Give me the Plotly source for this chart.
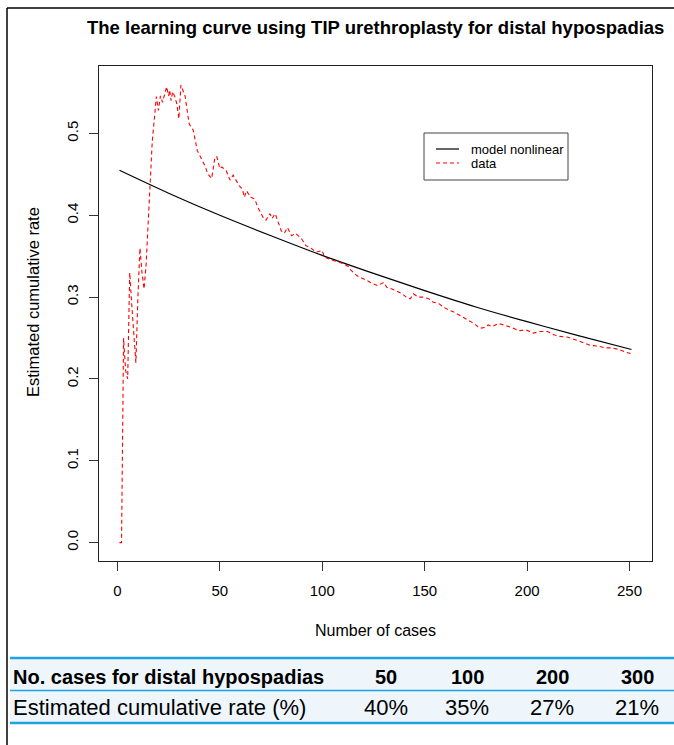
import plotly.graph_objects as go

# ---------------- data ----------------
model_x = [1, 25, 50, 75, 100, 125, 150, 175, 200, 225, 251]
model_y = [0.455, 0.427, 0.400, 0.375, 0.351, 0.329, 0.308, 0.288, 0.270, 0.253, 0.236]

data_x = [1, 2, 3, 4, 5, 6, 7, 8, 9, 10, 11, 12, 13, 14, 15, 16, 17, 18, 19, 20,
          21, 22, 24, 25, 25.5, 26.2, 27, 28, 29, 30, 31, 33, 34, 35, 37, 38, 39, 41,
          43, 44, 46, 47.5, 48.5, 50, 51, 53, 55, 56.5, 58, 59.5, 61, 62, 63, 65, 67,
          68.5, 71, 72.5, 74.5, 75.5, 77, 78.5, 80, 81.5, 83, 85, 87, 90, 92, 95, 97,
          100, 101, 103, 105, 108, 110, 113, 114, 117, 119, 122, 125, 127, 130, 131.5,
          134, 136, 139, 141, 143, 144.5, 147, 149, 152, 154, 157, 159, 162, 164, 167,
          170.5, 174, 177, 179.5, 181, 183, 186, 189, 192.5, 196, 199.5, 203, 206.5,
          210, 213, 216, 220, 223.5, 227.5, 231, 235, 238, 241.5, 245, 248, 250.5]
data_y = [0.0, 0.0, 0.25, 0.21, 0.20, 0.33, 0.29, 0.25, 0.22, 0.30, 0.36, 0.33, 0.31,
          0.34, 0.40, 0.44, 0.49, 0.52, 0.545, 0.528, 0.546, 0.538, 0.557, 0.546, 0.553,
          0.540, 0.551, 0.545, 0.536, 0.518, 0.559, 0.546, 0.528, 0.512, 0.504, 0.491,
          0.479, 0.469, 0.459, 0.451, 0.445, 0.469, 0.472, 0.457, 0.459, 0.455, 0.443,
          0.449, 0.443, 0.436, 0.432, 0.422, 0.430, 0.422, 0.420, 0.410, 0.398, 0.394,
          0.402, 0.396, 0.402, 0.390, 0.381, 0.378, 0.385, 0.375, 0.378, 0.371, 0.363,
          0.359, 0.355, 0.357, 0.349, 0.347, 0.345, 0.343, 0.341, 0.337, 0.333, 0.326,
          0.324, 0.320, 0.316, 0.314, 0.318, 0.312, 0.310, 0.308, 0.304, 0.300, 0.298,
          0.304, 0.300, 0.300, 0.298, 0.294, 0.292, 0.288, 0.284, 0.282, 0.278, 0.273,
          0.268, 0.262, 0.263, 0.266, 0.264, 0.268, 0.266, 0.263, 0.259, 0.260, 0.256,
          0.258, 0.258, 0.254, 0.252, 0.251, 0.248, 0.244, 0.241, 0.240, 0.238, 0.238,
          0.236, 0.233, 0.231]

x_ticks = [0, 50, 100, 150, 200, 250]
y_ticks = [0.0, 0.1, 0.2, 0.3, 0.4, 0.5]

legend_labels = ["model nonlinear", "data"]

table_header = ["No. cases for distal hypospadias", "50", "100", "200", "300"]
table_row = ["Estimated cumulative rate (%)", "40%", "35%", "27%", "21%"]

title = "The learning curve using TIP urethroplasty for distal hypospadias"

# ---------------- layout geometry ----------------
W, H = 674, 745
L, R, T, B = 99, 22, 66, 184
PW, PH = W - L - R, H - T - B


def px(x):
    return (x - L) / PW


def py(y):
    return (H - B - y) / PH


FONT = "Liberation Sans, Arial, Helvetica, sans-serif"
MODEL_LINE = dict(color="black", width=1.2)
DATA_LINE = dict(color="#ff0000", width=1.1, dash="4px,3px")

fig = go.Figure()
fig.add_trace(go.Scatter(x=model_x, y=model_y, mode="lines", name=legend_labels[0],
                         line=dict(shape="spline", **MODEL_LINE)))
fig.add_trace(go.Scatter(x=data_x, y=data_y, mode="lines", name=legend_labels[1],
                         line=DATA_LINE))

axis_common = dict(showgrid=False, zeroline=False, showline=True, mirror=True,
                   linecolor="#222", linewidth=1, ticks="outside", ticklen=9,
                   tickcolor="#333", tickwidth=1,
                   tickfont=dict(family=FONT, size=15, color="black"))

fig.update_xaxes(range=[-9, 261], tickvals=x_ticks,
                 ticktext=[str(v) for v in x_ticks], ticklabelstandoff=7, **axis_common)
fig.update_yaxes(range=[-0.0224, 0.5824], tickvals=y_ticks,
                 ticktext=[f"{v:.1f}" for v in y_ticks], tickangle=-90,
                 ticklabelstandoff=5, **axis_common)

annotations = [
    dict(text="<b>" + title + "</b>", x=0.5, y=py(28), xref="paper", yref="paper",
         showarrow=False, xanchor="center", yanchor="middle",
         font=dict(family=FONT, size=18.5, color="black")),
    dict(text="Number of cases", x=0.5, y=py(630), xref="paper", yref="paper",
         showarrow=False, xanchor="center", yanchor="middle",
         font=dict(family=FONT, size=16, color="black")),
    dict(text="Estimated cumulative rate", x=px(33), y=py(302), xref="paper", yref="paper",
         showarrow=False, xanchor="center", yanchor="middle", textangle=-90,
         font=dict(family=FONT, size=16.5, color="black")),
]

# legend (drawn as a boxed key like the original)
leg_rows = [149, 163]
for lab, yy in zip(legend_labels, leg_rows):
    annotations.append(dict(text=lab, x=px(469), y=py(yy), xref="paper", yref="paper",
                            showarrow=False, xanchor="left", yanchor="middle",
                            font=dict(family=FONT, size=13, color="black")))

# table text
col_centers = [None, 386, 467, 552, 637]
for row, yc, bold, size in [(table_header, 677, True, 20), (table_row, 707, False, 22)]:
    for i, t in enumerate(row):
        txt = f"<b>{t}</b>" if bold else t
        if i == 0:
            annotations.append(dict(text=txt, x=px(11), y=py(yc), xref="paper", yref="paper",
                                    showarrow=False, xanchor="left", yanchor="middle",
                                    font=dict(family=FONT, size=size, color="black")))
        else:
            annotations.append(dict(text=txt, x=px(col_centers[i]), y=py(yc), xref="paper",
                                    yref="paper", showarrow=False, xanchor="center",
                                    yanchor="middle",
                                    font=dict(family=FONT, size=size, color="black")))

BLUE = "#1ea3e0"
shapes = [
    # legend box and keys
    dict(type="rect", xref="paper", yref="paper", x0=px(424), x1=px(568), y0=py(133), y1=py(180),
         fillcolor="white", line=dict(color="#444", width=1), layer="above"),
    dict(type="line", xref="paper", yref="paper", x0=px(436), x1=px(459), y0=py(leg_rows[0]),
         y1=py(leg_rows[0]), line=MODEL_LINE),
    dict(type="line", xref="paper", yref="paper", x0=px(436), x1=px(459), y0=py(leg_rows[1]),
         y1=py(leg_rows[1]), line=DATA_LINE),
    # table background
    dict(type="rect", xref="paper", yref="paper", x0=px(10), x1=px(674), y0=py(658), y1=py(723),
         fillcolor="#eef6fc", line=dict(width=0), layer="below"),
    dict(type="line", xref="paper", yref="paper", x0=px(10), x1=px(674), y0=py(658), y1=py(658),
         line=dict(color=BLUE, width=2.5)),
    dict(type="line", xref="paper", yref="paper", x0=px(10), x1=px(674), y0=py(690.5), y1=py(690.5),
         line=dict(color=BLUE, width=1.5)),
    dict(type="line", xref="paper", yref="paper", x0=px(10), x1=px(674), y0=py(723), y1=py(723),
         line=dict(color=BLUE, width=2.5)),
    # outer frame
    dict(type="line", xref="paper", yref="paper", x0=px(7), x1=px(7), y0=py(8), y1=py(745),
         line=dict(color="black", width=1.5)),
    dict(type="line", xref="paper", yref="paper", x0=px(7), x1=px(674), y0=py(8), y1=py(8),
         line=dict(color="black", width=1.5)),
]

fig.update_layout(
    width=W, height=H, margin=dict(l=L, r=R, t=T, b=B, pad=0),
    paper_bgcolor="white", plot_bgcolor="white",
    showlegend=False,
    annotations=annotations, shapes=shapes,
)

fig.write_html("out.html")
